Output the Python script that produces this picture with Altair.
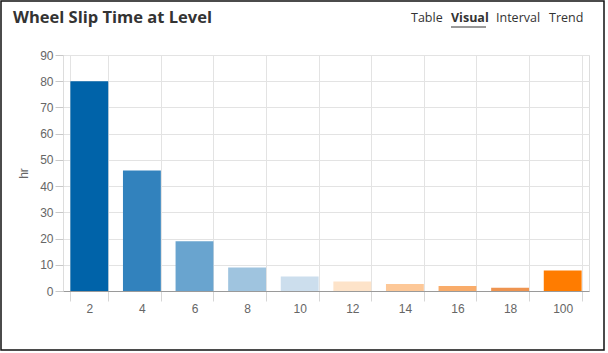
import altair as alt
import pandas as pd

levels = ["2", "4", "6", "8", "10", "12", "14", "16", "18", "100"]
hours = [80, 46, 19, 9, 5.5, 3.6, 2.7, 1.9, 1.2, 7.8]
colors = ["#0063a9", "#3282bd", "#69a4cf", "#9fc4df", "#ccdeed",
          "#fde3c9", "#fdc898", "#f9ac6a", "#ee9450", "#ff7c00"]
title_text = "Wheel Slip Time at Level"
nav_items = ["Table", "Visual", "Interval", "Trend"]

df = pd.DataFrame({"level": levels, "hours": hours})
one = pd.DataFrame({"k": [0]})

LF = "Liberation Sans"

bars = alt.Chart(df).mark_bar().encode(
    x=alt.X("level:N", sort=levels, title=None,
            scale=alt.Scale(paddingInner=0.28, paddingOuter=0.14),
            axis=alt.Axis(tickBand="extent", labelAngle=0, grid=True,
                          gridColor="#e3e3e3", domainColor="#9a9a9a",
                          tickColor="#d6d6d6", tickSize=10, labelPadding=2,
                          labelFont=LF, labelFontSize=12, labelColor="#666666")),
    y=alt.Y("hours:Q", title="hr",
            scale=alt.Scale(domain=[0, 90], nice=False),
            axis=alt.Axis(values=list(range(0, 91, 10)), grid=True,
                          gridColor="#e3e3e3", domain=False, tickColor="#c8c8c8",
                          tickSize=8, labelPadding=2, labelFont=LF,
                          labelFontSize=12, labelColor="#666666",
                          titleFont=LF, titleFontSize=12, titleFontWeight="normal",
                          titleColor="#666666", titlePadding=9)),
    color=alt.Color("level:N", scale=alt.Scale(domain=levels, range=colors), legend=None),
)

border = alt.Chart(one).mark_rect(fill=None, stroke="#111111", strokeWidth=1.5).encode(
    x=alt.value(-62), x2=alt.value(541), y=alt.value(-54), y2=alt.value(295)
)

title = alt.Chart(one).mark_text(align="left", baseline="middle", font="Open Sans",
                                 fontSize=16.5, fontWeight="bold", color="#333333").encode(
    x=alt.value(-50), y=alt.value(-37), text=alt.value(title_text)
)

nav_x = [348, 388, 433, 486]
nav_layers = []
for name, xv in zip(nav_items, nav_x):
    nav_layers.append(
        alt.Chart(one).mark_text(align="left", baseline="middle", font="Open Sans",
                                 fontSize=12.5,
                                 fontWeight="bold" if name == "Visual" else "normal",
                                 color="#333333").encode(
            x=alt.value(xv), y=alt.value(-37), text=alt.value(name)
        )
    )

underline = alt.Chart(one).mark_rule(color="#333333", strokeWidth=1).encode(
    x=alt.value(388), x2=alt.value(423), y=alt.value(-28)
)

chart = alt.layer(bars, border, title, *nav_layers, underline).properties(
    width=526, height=236,
    autosize=alt.AutoSizeParams(type="none"),
    padding={"left": 63, "top": 55, "right": 19, "bottom": 62},
).configure_view(stroke=None).configure(background="white")

chart.save("out.html", embed_options={"renderer": "svg", "actions": False})
